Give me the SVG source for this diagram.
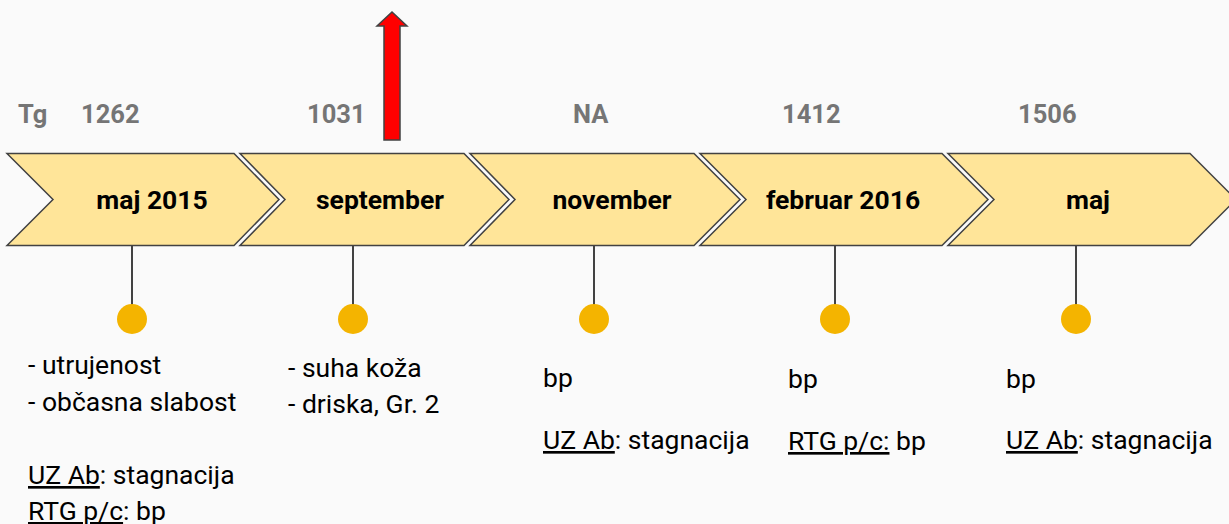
<svg xmlns="http://www.w3.org/2000/svg" width="1229" height="524" viewBox="0 0 1229 524">
<style>
.bg{fill:#fafafa}
.chev{fill:#ffe599;stroke:#424242;stroke-width:1.5}
.stem{stroke:#424242;stroke-width:2}
.dot{fill:#f4b400}
.hdr{font-family:Roboto,"Liberation Sans",sans-serif;font-weight:bold;font-size:25.5px;fill:#757575}
.lbl{font-family:Roboto,"Liberation Sans",sans-serif;font-weight:bold;font-size:26.5px;fill:#000;text-anchor:middle}
.txt{font-family:Roboto,"Liberation Sans",sans-serif;font-size:26.5px;fill:#000}
.u{text-decoration:underline}
</style>
<rect class="bg" x="0" y="0" width="1229" height="524"/>
<g id="header">
<text class="hdr" x="18" y="123">Tg</text>
<text class="hdr" x="81" y="123">1262</text>
<text class="hdr" x="307" y="123">1031</text>
<text class="hdr" x="573" y="123">NA</text>
<text class="hdr" x="782" y="123">1412</text>
<text class="hdr" x="1018" y="123">1506</text>
</g>
<g id="arrow">
<path d="M384,140 L384,26 L377,26 L392,12 L407,26 L400,26 L400,140 Z" fill="#ff0000" stroke="#424242" stroke-width="1.5"/>
</g>
<g id="node1">
<path class="chev" d="M7,153.5 L234,153.5 L279,199.5 L234,245.5 L7,245.5 L53,199.5 Z"/>
<text class="lbl" x="152" y="209">maj 2015</text>
</g>
<g id="node2">
<path class="chev" d="M240,153.5 L464,153.5 L509,199.5 L464,245.5 L240,245.5 L285,199.5 Z"/>
<text class="lbl" x="380" y="209">september</text>
</g>
<g id="node3">
<path class="chev" d="M470,153.5 L694,153.5 L740,199.5 L694,245.5 L470,245.5 L515,199.5 Z"/>
<text class="lbl" x="612" y="209">november</text>
</g>
<g id="node4">
<path class="chev" d="M700,153.5 L942,153.5 L988,199.5 L942,245.5 L700,245.5 L746,199.5 Z"/>
<text class="lbl" x="843" y="209">februar 2016</text>
</g>
<g id="node5">
<path class="chev" d="M948,153.5 L1190,153.5 L1236,199.5 L1190,245.5 L948,245.5 L994,199.5 Z"/>
<text class="lbl" x="1088" y="209">maj</text>
</g>
<g id="connectors">
<line class="stem" x1="132" y1="246" x2="132" y2="306"/>
<line class="stem" x1="353" y1="246" x2="353" y2="306"/>
<line class="stem" x1="594" y1="246" x2="594" y2="306"/>
<line class="stem" x1="835" y1="246" x2="835" y2="306"/>
<line class="stem" x1="1076" y1="246" x2="1076" y2="306"/>
</g>
<g id="dots">
<circle class="dot" cx="132" cy="319" r="15"/>
<circle class="dot" cx="353" cy="319" r="15"/>
<circle class="dot" cx="594" cy="319" r="15"/>
<circle class="dot" cx="835" cy="319" r="15"/>
<circle class="dot" cx="1076" cy="319" r="15"/>
</g>
<g id="notes1">
<text class="txt" x="28" y="374">- utrujenost</text>
<text class="txt" x="28" y="411">- občasna slabost</text>
<text class="txt" x="28" y="484"><tspan class="u">UZ Ab</tspan>: stagnacija</text>
<text class="txt" x="28" y="520"><tspan class="u">RTG p/c</tspan>: bp</text>
</g>
<g id="notes2">
<text class="txt" x="288" y="377">- suha koža</text>
<text class="txt" x="288" y="413">- driska, Gr. 2</text>
</g>
<g id="notes3">
<text class="txt" x="543" y="387">bp</text>
<text class="txt" x="543" y="449"><tspan class="u">UZ Ab</tspan>: stagnacija</text>
</g>
<g id="notes4">
<text class="txt" x="788" y="388">bp</text>
<text class="txt" x="788" y="450"><tspan class="u">RTG p/c:</tspan> bp</text>
</g>
<g id="notes5">
<text class="txt" x="1006" y="388">bp</text>
<text class="txt" x="1006" y="449"><tspan class="u">UZ Ab</tspan>: stagnacija</text>
</g>
</svg>
